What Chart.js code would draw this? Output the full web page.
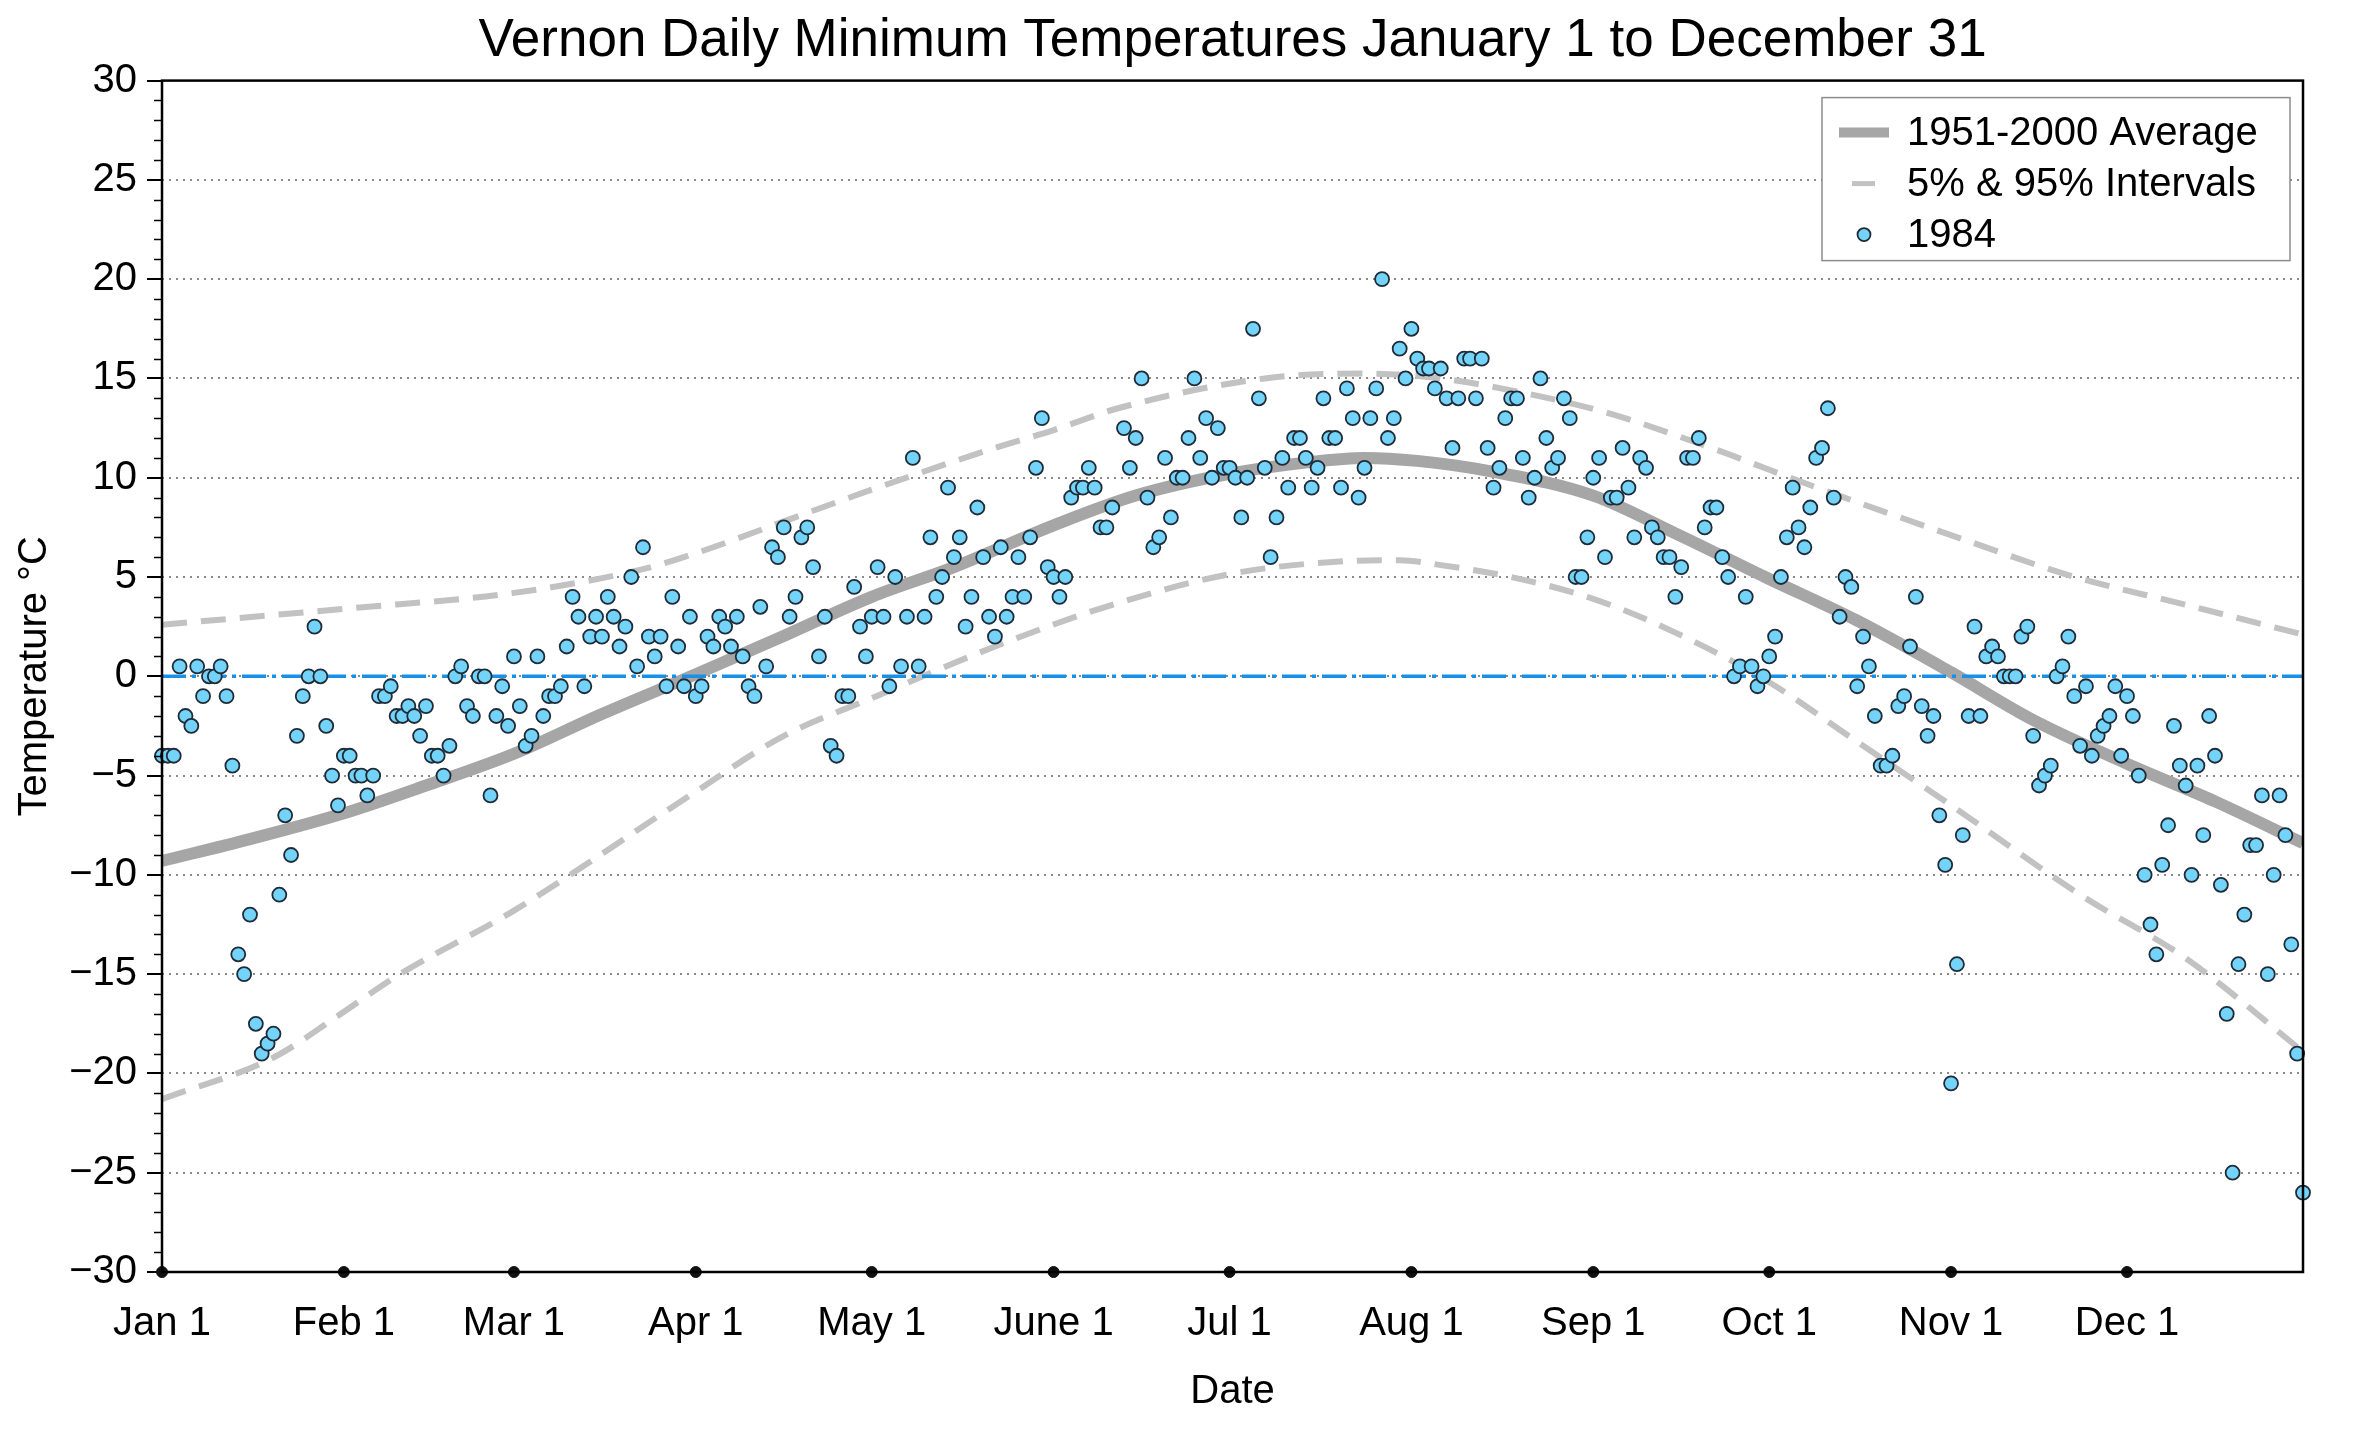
<!DOCTYPE html>
<html>
<head>
<meta charset="utf-8">
<script src="https://cdn.jsdelivr.net/npm/chart.js@4.4.0/dist/chart.umd.min.js"></script>
<style>
  html, body { margin: 0; padding: 0; background: #fff; }
  #caja { width: 2360px; height: 1432px; }
</style>
</head>
<body>
<div id="caja"><canvas id="grafica"></canvas></div>
<script>
// Etiquetas del eje X (primer dia de cada mes, dia del año base 0, 1984 bisiesto)
const mesesTxt = ['Jan 1','Feb 1','Mar 1','Apr 1','May 1','June 1','Jul 1','Aug 1','Sep 1','Oct 1','Nov 1','Dec 1'];
const inicioMes = [0, 31, 60, 91, 121, 152, 182, 213, 244, 274, 305, 335];

// Minimas diarias 1984, un arreglo por mes (null = dia sin dato)
const ene = [-4,-4,-4,0.5,-2,-2.5,0.5,-1,0,0,0.5,-1,-4.5,-14,-15,-12,-17.5,-19,-18.5,-18,-11,-7,-9,-3,-1,0,2.5,0,-2.5,-5,-6.5];
const feb = [-4,-4,-5,-5,-6,-5,-1,-1,-0.5,-2,-2,-1.5,-2,-3,-1.5,-4,-4,-5,-3.5,0,0.5,-1.5,-2,0,0,-6,-2,-0.5,-2.5];
const mar = [1,-1.5,-3.5,-3,1,-2,-1,-1,-0.5,1.5,4,3,-0.5,2,3,2,4,3,1.5,2.5,5,0.5,6.5,2,1,2,-0.5,4,1.5,-0.5,3];
const abr = [-1,-0.5,2,1.5,3,2.5,1.5,3,1,-0.5,-1,3.5,0.5,6.5,6,7.5,3,4,7,7.5,5.5,1,3,-3.5,-4,-1,-1,4.5,2.5,1];
const may = [3,5.5,3,-0.5,5,0.5,3,11,0.5,3,7,4,5,9.5,6,7,2.5,4,8.5,6,3,2,6.5,3,4,6,4,7,10.5,13,5.5];
const jun = [5,4,5,9,9.5,9.5,10.5,9.5,7.5,7.5,8.5,null,12.5,10.5,12,15,9,6.5,7,11,8,10,10,12,15,11,13,10,12.5,10.5];
const jul = [10.5,10,8,10,17.5,14,10.5,6,8,11,9.5,12,12,11,9.5,10.5,14,12,12,9.5,14.5,13,9,10.5,13,14.5,20,12,13,16.5,15];
const ago = [17.5,16,15.5,15.5,14.5,15.5,14,11.5,14,16,16,14,16,11.5,9.5,10.5,13,14,14,11,9,10,15,12,10.5,11,14,13,5,5,7];
const sep = [10,11,6,9,9,11.5,9.5,7,11,10.5,7.5,7,6,6,4,5.5,11,11,12,7.5,8.5,8.5,6,5,0,0.5,4,0.5,-0.5,0];
const oct = [1,2,5,7,9.5,7.5,6.5,8.5,11,11.5,13.5,9,3,5,4.5,-0.5,2,0.5,-2,-4.5,-4.5,-4,-1.5,-1,1.5,4,-1.5,-3,-2,-7,-9.5];
const nov = [-20.5,-14.5,-8,-2,2.5,-2,1,1.5,1,0,0,0,2,2.5,-3,-5.5,-5,-4.5,0,0.5,2,-1,-3.5,-0.5,-4,-3,-2.5,-2,-0.5,-4];
const dic = [-1,-2,-5,-10,-12.5,-14,-9.5,-7.5,-2.5,-4.5,-5.5,-10,-4.5,-8,-2,-4,-10.5,-17,-25,-14.5,-12,-8.5,-8.5,-6,-15,-10,-6,-8,-13.5,-19,-26];
const meses1984 = [ene, feb, mar, abr, may, jun, jul, ago, sep, oct, nov, dic];

// Promedio 1951-2000
const promDia = [0,15,31,45,60,75,91,105,121,135,152,166,182,196,205,214,227,244,258,274,289,305,319,335,350,365];
const promVal = [-9.3,-8.2,-6.9,-5.5,-3.9,-1.9,0.1,1.9,4.0,5.5,7.6,9.1,10.2,10.8,11.0,10.85,10.3,9.1,7.2,4.9,2.8,0.2,-2.2,-4.4,-6.3,-8.4];

// Intervalo 95%
const p95Dia = [0,31,60,82,91,106,121,142,152,163,188,205,218,230,246,266,274,284,308,325,345,365];
const p95Val = [2.6,3.4,4.2,5.4,6.2,7.8,9.4,11.5,12.4,13.5,15.0,15.25,15.0,14.4,13.3,11.3,10.4,9.3,6.8,5.1,3.6,2.1];

// Intervalo 5%
const p5Dia = [0,19,30,40,60,90,106,121,142,162,183,202,211,218,230,244,258,274,289,306,327,345,365];
const p5Val = [-21.3,-19.2,-17.1,-15.1,-11.8,-6.0,-3.0,-1.1,1.5,3.6,5.2,5.8,5.85,5.6,5.0,3.9,2.2,-0.3,-3.3,-6.7,-11.0,-14.2,-18.9];

// Linea de cero
const ceroDia = [0, 365];
const ceroVal = [0, 0];

const yMin = -30, yMax = 30;

const puntos1984 = [];
meses1984.forEach((mes, m) => {
  mes.forEach((v, i) => {
    if (v !== null) puntos1984.push({ x: inicioMes[m] + i, y: v });
  });
});
const aXY = (xs, ys) => xs.map((x, i) => ({ x, y: ys[i] }));

const FUENTE = '"Liberation Sans", Arial, Helvetica, sans-serif';
Chart.defaults.font.family = FUENTE;
Chart.defaults.color = '#000';

const colProm = '#a6a6a6', colInt = '#c2c2c2', colCero = '#1890e8';
const colPunto = '#74d3f9', colBorde = '#1f2b36';

// Marco, rayas menores del eje Y y leyenda
const extras = {
  id: 'extras',
  afterDatasetsDraw(chart) {
    const { ctx, chartArea: a, scales } = chart;
    const ys = scales.y;
    ctx.save();
    ctx.strokeStyle = '#000';
    ctx.lineWidth = 1.5;
    for (let v = yMin; v <= yMax; v++) {
      if (v % 5 === 0) continue;
      const py = Math.round(ys.getPixelForValue(v)) + 0.5;
      ctx.beginPath(); ctx.moveTo(a.left - 8, py); ctx.lineTo(a.left, py); ctx.stroke();
    }
    ctx.lineWidth = 2.5;
    ctx.strokeRect(a.left, a.top, a.right - a.left, a.bottom - a.top);

    // leyenda
    const bx = a.right - 481, by = a.top + 17, bw = 468, bh = 163;
    ctx.fillStyle = '#fff';
    ctx.fillRect(bx, by, bw, bh);
    ctx.strokeStyle = '#8c8c8c';
    ctx.lineWidth = 1.5;
    ctx.strokeRect(bx, by, bw, bh);
    const filas = [by + 35, by + 86, by + 137];
    ctx.strokeStyle = colProm; ctx.lineWidth = 10;
    ctx.beginPath(); ctx.moveTo(bx + 17, filas[0]); ctx.lineTo(bx + 67, filas[0]); ctx.stroke();
    ctx.strokeStyle = colInt; ctx.lineWidth = 5;
    ctx.beginPath(); ctx.moveTo(bx + 30, filas[1]); ctx.lineTo(bx + 53, filas[1]); ctx.stroke();
    ctx.fillStyle = colPunto; ctx.strokeStyle = colBorde; ctx.lineWidth = 1.8;
    ctx.beginPath(); ctx.arc(bx + 42, filas[2], 6.5, 0, Math.PI * 2); ctx.fill(); ctx.stroke();
    ctx.fillStyle = '#000';
    ctx.font = '40px ' + FUENTE;
    ctx.textBaseline = 'middle';
    ctx.textAlign = 'left';
    const textos = ['1951-2000 Average', '5% & 95% Intervals', '1984'];
    textos.forEach((t, i) => ctx.fillText(t, bx + 85, filas[i] + 1));
    ctx.restore();
  }
};

const Conf = {
  type: 'scatter',
  data: {
    datasets: [
      {
        label: '1984',
        data: puntos1984,
        backgroundColor: colPunto,
        borderColor: colBorde,
        borderWidth: 1.8,
        pointRadius: 7,
        clip: false,
        order: 0
      },
      {
        label: 'cero',
        data: aXY(ceroDia, ceroVal),
        showLine: true,
        borderColor: colCero,
        borderWidth: 3.5,
        borderDash: [24, 6, 4, 6],
        pointRadius: 0,
        order: 1
      },
      {
        label: '1951-2000 Average',
        data: aXY(promDia, promVal),
        showLine: true,
        borderColor: colProm,
        borderWidth: 12,
        cubicInterpolationMode: 'monotone',
        pointRadius: 0,
        order: 2
      },
      {
        label: '95%',
        data: aXY(p95Dia, p95Val),
        showLine: true,
        borderColor: colInt,
        borderWidth: 6,
        borderDash: [25, 14],
        cubicInterpolationMode: 'monotone',
        pointRadius: 0,
        order: 3
      },
      {
        label: '5%',
        data: aXY(p5Dia, p5Val),
        showLine: true,
        borderColor: colInt,
        borderWidth: 6,
        borderDash: [25, 14],
        cubicInterpolationMode: 'monotone',
        pointRadius: 0,
        order: 3
      },
      {
        label: 'meses',
        data: inicioMes.map(x => ({ x, y: yMin })),
        backgroundColor: '#111',
        borderColor: '#111',
        pointRadius: 5.5,
        clip: false,
        order: -1
      }
    ]
  },
  options: {
    responsive: true,
    maintainAspectRatio: false,
    devicePixelRatio: 1,
    animation: false,
    layout: { padding: { left: 0, right: 57, top: 0, bottom: 0 } },
    scales: {
      x: {
        type: 'linear',
        min: 0,
        max: 365,
        afterBuildTicks: s => { s.ticks = inicioMes.map(v => ({ value: v })); },
        afterFit: s => { s.height = 160; },
        ticks: {
          autoSkip: false,
          maxRotation: 0,
          padding: 28,
          font: { size: 40 },
          color: '#000',
          callback: (v, i) => mesesTxt[i]
        },
        grid: { display: false, drawTicks: false },
        border: { display: false },
        title: {
          display: true,
          text: 'Date',
          font: { size: 40 },
          color: '#000',
          padding: { top: 0, bottom: 16 }
        }
      },
      y: {
        min: yMin,
        max: yMax,
        afterFit: s => { s.width = 162; },
        ticks: {
          stepSize: 5,
          padding: 10,
          font: { size: 40 },
          color: '#000',
          callback: v => (v < 0 ? '\u2212' + Math.abs(v) : String(v))
        },
        grid: {
          color: c => (c.tick && Math.abs(c.tick.value) === 30 ? 'rgba(0,0,0,0)' : '#8a8a8a'),
          lineWidth: 2,
          drawTicks: true,
          tickLength: 15,
          tickColor: '#000',
          tickWidth: 2
        },
        border: { display: false, dash: [2, 5] },
        title: {
          display: true,
          text: 'Temperature °C',
          font: { size: 40 },
          color: '#000',
          padding: { top: 11, bottom: 0 }
        }
      }
    },
    plugins: {
      legend: { display: false },
      tooltip: { enabled: false },
      title: {
        display: true,
        fullSize: false,
        text: 'Vernon Daily Minimum Temperatures January 1 to December 31',
        color: '#000',
        font: { size: 53, weight: 'normal' },
        padding: { top: 10, bottom: 7 }
      }
    }
  },
  plugins: [extras]
};

window.Graf = new Chart(document.getElementById('grafica'), Conf);
</script>
</body>
</html>
